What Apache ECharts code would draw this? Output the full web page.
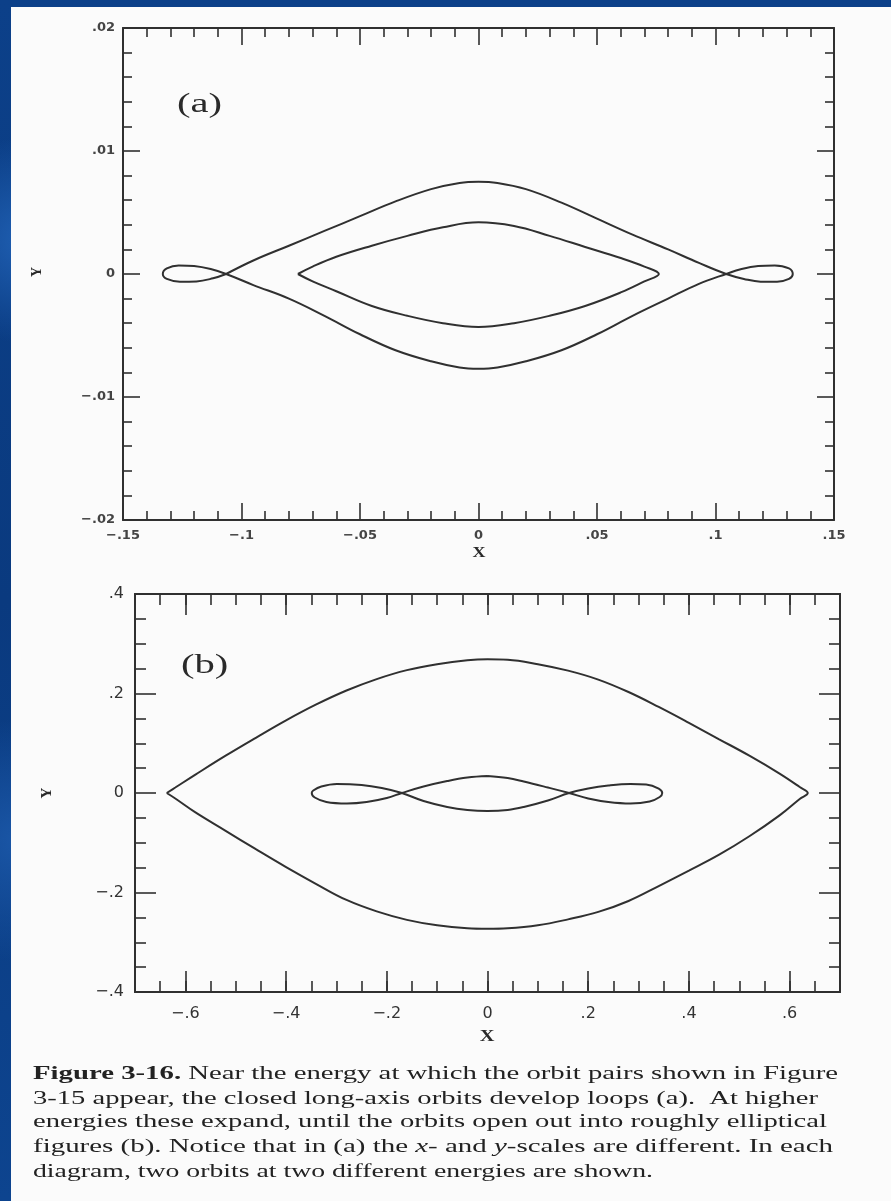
<!DOCTYPE html>
<html>
<head>
<meta charset="utf-8">
<title>Figure 3-16 — long-axis orbits</title>
<script src="https://cdn.jsdelivr.net/npm/echarts@6/dist/echarts.min.js"></script>
<style>
  html, body { margin: 0; padding: 0; width: 891px; height: 1201px; overflow: hidden; }
  body {
    background:
      radial-gradient(circle at 3% 20%, #1f5fb2 0, rgba(31,95,178,0) 8%),
      radial-gradient(circle at 2% 70%, #1a56a6 0, rgba(26,86,166,0) 10%),
      linear-gradient(180deg, #0c4089 0%, #0a3a7f 50%, #0d448f 100%);
  }
  #page { position: absolute; left: 11px; top: 7px; width: 880px; height: 1194px; background: #fbfbfb; }
  #chart { position: absolute; left: 0; top: 0; width: 891px; height: 1201px; }
</style>
</head>
<body>
<div id="page"></div>
<div id="chart"></div>
<script>
// ---- Panel (a): closed long-axis orbits that have developed loops, [x, y] along each path
const orbitAOuter = [
  // upper branch, left crossing to right crossing
  [-0.1065, 0.0000], [-0.095, 0.0011], [-0.080, 0.0023], [-0.065, 0.0035], [-0.050, 0.0047],
  [-0.035, 0.0059], [-0.020, 0.0069], [-0.008, 0.0074], [0.000, 0.0075], [0.008, 0.0074],
  [0.020, 0.0069], [0.035, 0.0058], [0.050, 0.0045], [0.065, 0.0032], [0.080, 0.0020],
  [0.093, 0.0009], [0.1045, 0.0000],
  // right loop
  [0.1120, -0.0004], [0.1190, -0.00062], [0.1260, -0.00062], [0.1310, -0.0004], [0.1326, 0.0000],
  [0.1310, 0.00045], [0.1250, 0.0007], [0.1180, 0.00065], [0.1110, 0.0004], [0.1045, 0.0000],
  // lower branch, right crossing to left crossing
  [0.093, -0.0008], [0.080, -0.0020], [0.065, -0.0034], [0.050, -0.0049], [0.035, -0.0062],
  [0.020, -0.0071], [0.008, -0.0076], [0.000, -0.0077], [-0.008, -0.0076], [-0.020, -0.0071],
  [-0.035, -0.0062], [-0.050, -0.0049], [-0.065, -0.0034], [-0.080, -0.0020], [-0.095, -0.0009],
  [-0.1065, 0.0000],
  // left loop
  [-0.1130, 0.0004], [-0.1200, 0.00065], [-0.1265, 0.0007], [-0.1315, 0.00045], [-0.1332, 0.0000],
  [-0.1315, -0.0004], [-0.1260, -0.00062], [-0.1190, -0.0006], [-0.1120, -0.00035], [-0.1065, 0.0000]
];
const orbitAInner = [
  [-0.0762, 0.0000], [-0.070, 0.0006], [-0.060, 0.0014], [-0.045, 0.0023], [-0.030, 0.0031],
  [-0.015, 0.0038], [0.000, 0.0042], [0.015, 0.0039], [0.030, 0.0031], [0.045, 0.0022],
  [0.060, 0.0013], [0.070, 0.0006], [0.0761, 0.0000], [0.070, -0.0006], [0.060, -0.0015],
  [0.045, -0.0026], [0.030, -0.0034], [0.015, -0.0040], [0.000, -0.0043], [-0.015, -0.0040],
  [-0.030, -0.0034], [-0.045, -0.0026], [-0.060, -0.0014], [-0.070, -0.0006], [-0.0762, 0.0000]
];

// ---- Panel (b): at higher energy, the roughly elliptical orbit and the looped one
const orbitBOuter = [
  // upper half, left tip to right tip
  [-0.637, 0.000], [-0.62, 0.011], [-0.58, 0.037], [-0.52, 0.075], [-0.46, 0.111], [-0.40, 0.146],
  [-0.34, 0.178], [-0.28, 0.206], [-0.22, 0.229], [-0.16, 0.247], [-0.10, 0.259], [-0.04, 0.267],
  [0.00, 0.269], [0.04, 0.268], [0.10, 0.259], [0.16, 0.246], [0.22, 0.228], [0.28, 0.203],
  [0.34, 0.173], [0.40, 0.141], [0.46, 0.108], [0.52, 0.075], [0.58, 0.039], [0.62, 0.012],
  [0.636, 0.000],
  // lower half, right tip back to left tip
  [0.62, -0.012], [0.58, -0.045], [0.52, -0.087], [0.46, -0.124], [0.40, -0.156], [0.34, -0.187],
  [0.28, -0.217], [0.22, -0.239], [0.16, -0.254], [0.10, -0.266], [0.04, -0.272], [0.00, -0.273],
  [-0.04, -0.272], [-0.10, -0.266], [-0.16, -0.255], [-0.22, -0.238], [-0.28, -0.215], [-0.34, -0.183],
  [-0.40, -0.149], [-0.46, -0.113], [-0.52, -0.076], [-0.58, -0.039], [-0.62, -0.011], [-0.637, 0.000]
];
const orbitBInner = [
  [0.000, 0.034], [0.040, 0.030], [0.072, 0.023], [0.120, 0.011], [0.162, 0.000], [0.200, -0.011],
  [0.240, -0.018], [0.284, -0.021], [0.322, -0.017], [0.342, -0.008], [0.347, 0.000], [0.340, 0.009],
  [0.315, 0.017], [0.284, 0.018], [0.240, 0.015], [0.200, 0.009], [0.162, 0.000], [0.120, -0.015],
  [0.072, -0.028], [0.040, -0.034], [0.000, -0.036], [-0.040, -0.034], [-0.080, -0.028], [-0.127, -0.016],
  [-0.170, 0.000], [-0.210, 0.010], [-0.250, 0.016], [-0.299, 0.018], [-0.330, 0.013], [-0.346, 0.005],
  [-0.349, 0.000], [-0.343, -0.009], [-0.320, -0.018], [-0.279, -0.021], [-0.240, -0.018], [-0.200, -0.010],
  [-0.170, 0.000], [-0.127, 0.013], [-0.080, 0.024], [-0.040, 0.031], [0.000, 0.034]
];

// ---- Tick values and their printed labels
const aXTicks  = [-0.15, -0.1, -0.05, 0, 0.05, 0.1, 0.15];
const aXLabels = ['\u2212.15', '\u2212.1', '\u2212.05', '0', '.05', '.1', '.15'];
const aYTicks  = [-0.02, -0.01, 0, 0.01, 0.02];
const aYLabels = ['\u2212.02', '\u2212.01', '0', '.01', '.02'];
const bXTicks  = [-0.6, -0.4, -0.2, 0, 0.2, 0.4, 0.6];
const bXLabels = ['\u2212.6', '\u2212.4', '\u2212.2', '0', '.2', '.4', '.6'];
const bYTicks  = [-0.4, -0.2, 0, 0.2, 0.4];
const bYLabels = ['\u2212.4', '\u2212.2', '0', '.2', '.4'];

const INK = '#303030';

function labelFor(vals, texts) {
  return function (v) {
    for (let i = 0; i < vals.length; i++) {
      if (Math.abs(vals[i] - v) < 1e-9) return texts[i];
    }
    return '';
  };
}

// One side of a boxed frame: inward ticks, optional labels
function frameAxis(gridIndex, position, range, t) {
  const ax = {
    type: 'value', gridIndex: gridIndex, position: position,
    min: range[0], max: range[1],
    splitLine: { show: false }, minorSplitLine: { show: false },
    axisLine: { show: true, onZero: false, lineStyle: { color: INK, width: 2 } },
    axisTick: { show: true, inside: true, length: t.len, lineStyle: { color: INK, width: 1.6 } },
    axisLabel: { show: false },
    axisPointer: { show: false }
  };
  if (t.interval) ax.interval = t.interval;
  if (t.splitNumber) ax.splitNumber = t.splitNumber;
  if (t.customValues) ax.axisTick.customValues = t.customValues;
  if (t.minorSplit) {
    ax.minorTick = { show: true, splitNumber: t.minorSplit, length: t.minorLen,
                     lineStyle: { color: INK, width: 1.6 } };
  }
  if (t.labels) {
    const L = t.labels;
    ax.axisLabel = {
      show: true, margin: L.margin, color: L.color, fontFamily: L.family,
      fontSize: L.size, fontWeight: L.weight, showMinLabel: true, showMaxLabel: true,
      hideOverlap: false, formatter: labelFor(L.vals, L.texts)
    };
    if (t.customValues) ax.axisLabel.customValues = t.customValues;
  }
  return ax;
}

const labA = { family: 'DejaVu Sans', size: 13, weight: 'bold', color: '#444' };
const labB = { family: 'DejaVu Sans', size: 16, weight: 'normal', color: '#333' };

const xAxes = [
  frameAxis(0, 'bottom', [-0.15, 0.15], { interval: 0.05, len: 17, minorSplit: 5, minorLen: 9,
    labels: Object.assign({ vals: aXTicks, texts: aXLabels, margin: 9 }, labA) }),
  frameAxis(0, 'top', [-0.15, 0.15], { interval: 0.05, len: 17, minorSplit: 5, minorLen: 9 }),
  frameAxis(1, 'bottom', [-0.7, 0.7], { interval: 0.05, len: 11 }),
  frameAxis(1, 'bottom', [-0.7, 0.7], { customValues: bXTicks, splitNumber: 7, len: 21,
    labels: Object.assign({ vals: bXTicks, texts: bXLabels, margin: 14 }, labB) }),
  frameAxis(1, 'top', [-0.7, 0.7], { interval: 0.05, len: 11 }),
  frameAxis(1, 'top', [-0.7, 0.7], { customValues: bXTicks, splitNumber: 7, len: 21 })
];
const yAxes = [
  frameAxis(0, 'left', [-0.02, 0.02], { interval: 0.01, len: 17, minorSplit: 5, minorLen: 9,
    labels: Object.assign({ vals: aYTicks, texts: aYLabels, margin: 8 }, labA) }),
  frameAxis(0, 'right', [-0.02, 0.02], { interval: 0.01, len: 17, minorSplit: 5, minorLen: 9 }),
  frameAxis(1, 'left', [-0.4, 0.4], { interval: 0.2, len: 21, minorSplit: 4, minorLen: 11,
    labels: Object.assign({ vals: bYTicks, texts: bYLabels, margin: 11 }, labB) }),
  frameAxis(1, 'right', [-0.4, 0.4], { interval: 0.2, len: 21, minorSplit: 4, minorLen: 11 })
];

function orbit(data, xi, yi) {
  return {
    type: 'line', data: data, xAxisIndex: xi, yAxisIndex: yi,
    smooth: 0.4, showSymbol: false, symbol: 'none', silent: true,
    lineStyle: { color: INK, width: 2 }, z: 3
  };
}

// ---- Caption, one text row per printed line, stretched to its measured line length
const captionLines = [
  '{b|Figure 3-16.} Near the energy at which the orbit pairs shown in Figure',
  '3-15 appear, the closed long-axis orbits develop loops (a).  At higher',
  'energies these expand, until the orbits open out into roughly elliptical',
  'figures (b). Notice that in (a) the {i|x}- and {i|y}-scales are different. In each',
  'diagram, two orbits at two different energies are shown.'
];
const captionLeft = 33;
const captionRight = [838, 818, 827, 833, 653];
const captionMid = [1074, 1099, 1122, 1147, 1172];
const capFamily = '"Liberation Serif", "Times New Roman", serif';
const capSize = 18;

const measureCtx = document.createElement('canvas').getContext('2d');
function richWidth(line) {
  const re = /\{(\w)\|([^}]*)\}|([^{]+)/g;
  let m, w = 0;
  while ((m = re.exec(line)) !== null) {
    let style = '', txt = m[3];
    if (m[1]) { txt = m[2]; style = m[1] === 'b' ? 'bold ' : 'italic '; }
    measureCtx.font = style + capSize + 'px ' + capFamily;
    w += measureCtx.measureText(txt).width;
  }
  return w;
}

const graphics = [
  { type: 'text', x: 177, y: 105, scaleX: 1.45, z: 10,
    style: { text: '(a)', fontFamily: capFamily, fontSize: 28, fill: '#2a2a2a', verticalAlign: 'middle' } },
  { type: 'text', x: 181, y: 666, scaleX: 1.45, z: 10,
    style: { text: '(b)', fontFamily: capFamily, fontSize: 28, fill: '#2a2a2a', verticalAlign: 'middle' } },
  { type: 'text', x: 479, y: 553, scaleX: 1.2, z: 10,
    style: { text: 'X', fontFamily: capFamily, fontWeight: 'bold', fontSize: 15, fill: '#2a2a2a',
             align: 'center', verticalAlign: 'middle' } },
  { type: 'text', x: 487, y: 1037, scaleX: 1.2, z: 10,
    style: { text: 'X', fontFamily: capFamily, fontWeight: 'bold', fontSize: 17, fill: '#2a2a2a',
             align: 'center', verticalAlign: 'middle' } },
  { type: 'text', x: 37, y: 272, rotation: Math.PI / 2, z: 10,
    style: { text: 'Y', fontFamily: capFamily, fontWeight: 'bold', fontSize: 14, fill: '#2a2a2a',
             align: 'center', verticalAlign: 'middle' } },
  { type: 'text', x: 47, y: 793, rotation: Math.PI / 2, z: 10,
    style: { text: 'Y', fontFamily: capFamily, fontWeight: 'bold', fontSize: 15, fill: '#2a2a2a',
             align: 'center', verticalAlign: 'middle' } }
];

captionLines.forEach(function (line, i) {
  const natural = richWidth(line);
  const sx = (captionRight[i] - captionLeft) / natural;
  graphics.push({
    type: 'text', x: captionLeft, y: captionMid[i], scaleX: sx, z: 10,
    style: {
      text: line, fontFamily: capFamily, fontSize: capSize, fill: '#222',
      verticalAlign: 'middle',
      rich: {
        b: { fontFamily: capFamily, fontSize: capSize, fontWeight: 'bold', fill: '#222' },
        i: { fontFamily: capFamily, fontSize: capSize, fontStyle: 'italic', fill: '#222' }
      }
    }
  });
});

const chart = echarts.init(document.getElementById('chart'), null, { renderer: 'canvas' });
chart.setOption({
  animation: false,
  backgroundColor: 'transparent',
  grid: [
    { left: 123, top: 28, width: 711, height: 492, containLabel: false, outerBoundsMode: 'none' },
    { left: 135, top: 594, width: 705, height: 398, containLabel: false, outerBoundsMode: 'none' }
  ],
  xAxis: xAxes,
  yAxis: yAxes,
  series: [
    orbit(orbitAOuter, 0, 0),
    orbit(orbitAInner, 0, 0),
    orbit(orbitBOuter, 2, 2),
    orbit(orbitBInner, 2, 2)
  ],
  graphic: graphics
});
</script>
</body>
</html>
